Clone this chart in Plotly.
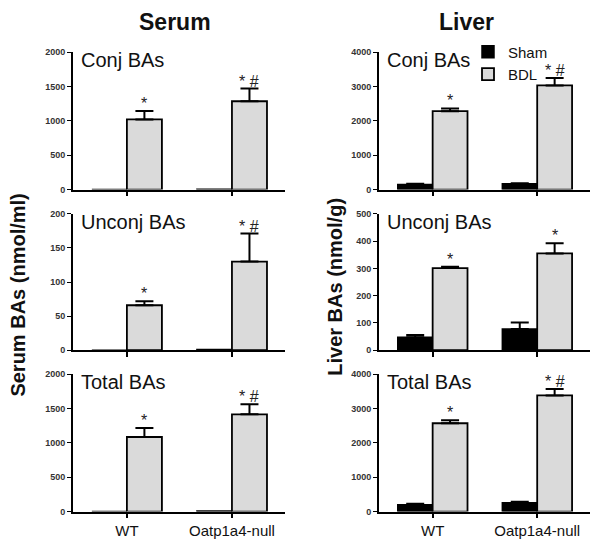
import plotly.graph_objects as go

categories = ["WT", "Oatp1a4-null"]
groups = ["Sham", "BDL"]

# Serum (nmol/ml)
serum_conj_sham = [0, 5]
serum_conj_sham_err = [0, 0]
serum_conj_bdl = [1020, 1285]
serum_conj_bdl_err = [125, 185]
serum_unconj_sham = [0, 1.0]
serum_unconj_sham_err = [0, 0]
serum_unconj_bdl = [66, 130]
serum_unconj_bdl_err = [6, 41]
serum_total_sham = [0, 8]
serum_total_sham_err = [0, 0]
serum_total_bdl = [1085, 1415]
serum_total_bdl_err = [130, 148]

# Liver (nmol/g)
liver_conj_sham = [150, 170]
liver_conj_sham_err = [20, 15]
liver_conj_bdl = [2280, 3030]
liver_conj_bdl_err = [80, 220]
liver_unconj_sham = [48, 78]
liver_unconj_sham_err = [8, 24]
liver_unconj_bdl = [301, 355]
liver_unconj_bdl_err = [5, 37]
liver_total_sham = [195, 255]
liver_total_sham_err = [35, 30]
liver_total_bdl = [2570, 3380]
liver_total_bdl_err = [90, 190]

panel_names = ["Conj BAs", "Unconj BAs", "Total BAs"]
serum_sig = [["*", "* #"], ["*", "* #"], ["*", "* #"]]
liver_sig = [["*", "* #"], ["*", "*"], ["*", "* #"]]

serum_ranges = [[0, 2000], [0, 200], [0, 2000]]
serum_dticks = [500, 50, 500]
liver_ranges = [[0, 4000], [0, 500], [0, 4000]]
liver_dticks = [1000, 100, 1000]

panels = [
    (0, 0, serum_conj_sham, serum_conj_sham_err, serum_conj_bdl, serum_conj_bdl_err, serum_sig[0], serum_ranges[0], serum_dticks[0]),
    (1, 0, serum_unconj_sham, serum_unconj_sham_err, serum_unconj_bdl, serum_unconj_bdl_err, serum_sig[1], serum_ranges[1], serum_dticks[1]),
    (2, 0, serum_total_sham, serum_total_sham_err, serum_total_bdl, serum_total_bdl_err, serum_sig[2], serum_ranges[2], serum_dticks[2]),
    (0, 1, liver_conj_sham, liver_conj_sham_err, liver_conj_bdl, liver_conj_bdl_err, liver_sig[0], liver_ranges[0], liver_dticks[0]),
    (1, 1, liver_unconj_sham, liver_unconj_sham_err, liver_unconj_bdl, liver_unconj_bdl_err, liver_sig[1], liver_ranges[1], liver_dticks[1]),
    (2, 1, liver_total_sham, liver_total_sham_err, liver_total_bdl, liver_total_bdl_err, liver_sig[2], liver_ranges[2], liver_dticks[2]),
]

W, H = 609, 547
FONT = "Liberation Sans, Arial, sans-serif"
col_px = [(73, 285), (379, 590)]
row_px = [(48, 188), (212.7, 351.7), (376, 516)]
xpos = [0, 1]

fig = go.Figure()
layout = {}
annotations = []

for i, (r, c, sham, sham_err, bdl, bdl_err, sig, yr, dt) in enumerate(panels):
    idx = i + 1
    xa = "x" if idx == 1 else f"x{idx}"
    ya = "y" if idx == 1 else f"y{idx}"
    show_leg = (r == 0 and c == 1)
    fig.add_trace(go.Bar(
        x=xpos, y=sham, name=groups[0], xaxis=xa, yaxis=ya,
        marker=dict(color="#000000", line=dict(color="#000000", width=1.5)),
        error_y=dict(type="data", symmetric=False, array=sham_err,
                     arrayminus=[0] * len(sham_err), color="#000000",
                     thickness=2, width=9, visible=(c == 1)),
        showlegend=show_leg, legendgroup="sham"))
    fig.add_trace(go.Bar(
        x=xpos, y=bdl, name=groups[1], xaxis=xa, yaxis=ya,
        marker=dict(color="#dadada", line=dict(color="#000000", width=1.8)),
        error_y=dict(type="data", symmetric=False, array=bdl_err,
                     arrayminus=[0] * len(bdl_err), color="#000000",
                     thickness=2, width=9),
        showlegend=show_leg, legendgroup="bdl"))

    x0, x1 = col_px[c]
    y0, y1 = row_px[r]
    xkey = "xaxis" if idx == 1 else f"xaxis{idx}"
    ykey = "yaxis" if idx == 1 else f"yaxis{idx}"
    layout[xkey] = dict(
        domain=[x0 / W, x1 / W], anchor=ya, range=[-0.513, 1.505],
        tickvals=xpos, ticktext=categories if r == 2 else ["", ""],
        ticks="outside", ticklen=5, tickwidth=1.5, tickcolor="#000",
        showline=True, linecolor="#000", linewidth=1.8,
        showgrid=False, zeroline=False,
        tickfont=dict(family=FONT, size=15, color="#111"))
    layout[ykey] = dict(
        domain=[1 - y1 / H, 1 - y0 / H], anchor=xa, range=yr, dtick=dt,
        ticks="outside", ticklen=4, tickwidth=1.2, tickcolor="#000",
        showline=True, linecolor="#000", linewidth=1.8,
        showgrid=False, zeroline=False,
        tickprefix="<b>", ticksuffix="</b>",
        tickfont=dict(family=FONT, size=9, color="#333"))

    annotations.append(dict(
        text=panel_names[r], xref="paper", yref="paper",
        x=(x0 + 6) / W, y=1 - (y0 + 8) / H, xanchor="left", yanchor="middle",
        showarrow=False, font=dict(family=FONT, size=20, color="#111")))
    for k in range(2):
        annotations.append(dict(
            text=sig[k], xref=xa, yref=ya, x=xpos[k] + 0.1665,
            y=bdl[k] + bdl_err[k], xanchor="center", yanchor="bottom",
            yshift=-3, showarrow=False,
            font=dict(family=FONT, size=16, color="#222")))

annotations.append(dict(text="<b>Serum</b>", xref="paper", yref="paper",
                        x=175 / W, y=1 - 17 / H, showarrow=False,
                        xanchor="center", yanchor="middle",
                        font=dict(family=FONT, size=23, color="#111")))
annotations.append(dict(text="<b>Liver</b>", xref="paper", yref="paper",
                        x=466 / W, y=1 - 17 / H, showarrow=False,
                        xanchor="center", yanchor="middle",
                        font=dict(family=FONT, size=23, color="#111")))
annotations.append(dict(text="<b>Serum BAs (nmol/ml)</b>", xref="paper", yref="paper",
                        x=18 / W, y=1 - 296 / H, showarrow=False, textangle=-90,
                        xanchor="center", yanchor="middle",
                        font=dict(family=FONT, size=20, color="#111")))
annotations.append(dict(text="<b>Liver BAs (nmol/g)</b>", xref="paper", yref="paper",
                        x=335 / W, y=1 - 287 / H, showarrow=False, textangle=-90,
                        xanchor="center", yanchor="middle",
                        font=dict(family=FONT, size=20, color="#111")))

fig.update_layout(
    width=W, height=H, margin=dict(l=0, r=0, t=0, b=0),
    paper_bgcolor="white", plot_bgcolor="white",
    barmode="group", bargap=0.333, bargroupgap=0,
    showlegend=True,
    legend=dict(x=468 / W, y=1 - 31 / H, xanchor="left", yanchor="top",
                font=dict(family=FONT, size=15, color="#111"),
                bgcolor="rgba(0,0,0,0)", tracegroupgap=0,
                itemwidth=30),
    annotations=annotations, **layout)

fig.write_html("out.html", config={"displayModeBar": False},
               post_script="document.body.style.margin='0px';document.body.style.overflow='hidden';")
